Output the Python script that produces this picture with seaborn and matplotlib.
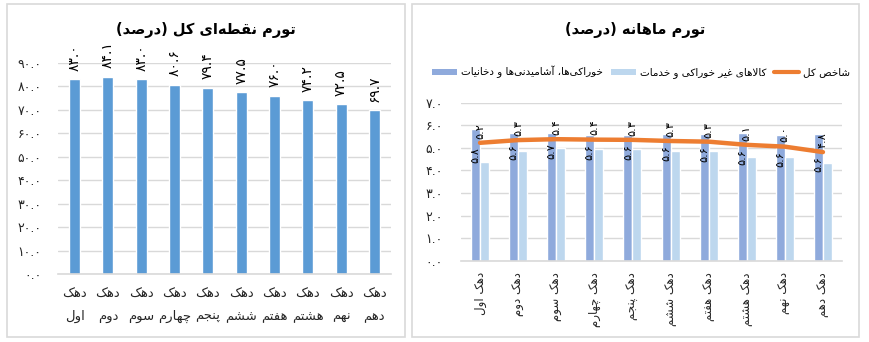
import numpy as np
import pandas as pd
import matplotlib
matplotlib.use("Agg")
import matplotlib.pyplot as plt
from matplotlib.patches import Rectangle, Patch
from matplotlib.lines import Line2D
from matplotlib.ticker import FixedLocator, FuncFormatter
import seaborn as sns

# ---------------- data ----------------
deciles = ["دهک اول", "دهک دوم", "دهک سوم", "دهک چهارم", "دهک پنجم",
           "دهک ششم", "دهک هفتم", "دهک هشتم", "دهک نهم", "دهک دهم"]
point_inflation = [83.0, 84.1, 83.0, 80.6, 79.4, 77.5, 76.0, 74.2, 72.5, 69.7]

food_monthly = [5.81, 5.64, 5.66, 5.58, 5.56, 5.62, 5.61, 5.64, 5.56, 5.62]
nonfood_monthly = [4.37, 4.86, 4.99, 4.96, 4.96, 4.86, 4.86, 4.59, 4.59, 4.31]
total_monthly = [5.22, 5.34, 5.38, 5.36, 5.35, 5.30, 5.27, 5.13, 5.05, 4.81]

title_left = "تورم نقطه‌ای کل (درصد)"
title_right = "تورم ماهانه (درصد)"
name_food = "خوراکی‌ها، آشامیدنی‌ها و دخانیات"
name_nonfood = "کالاهای غیر خوراکی و خدمات"
name_total = "شاخص کل"

left_ticks = [0, 10, 20, 30, 40, 50, 60, 70, 80, 90]
right_ticks = [0, 1, 2, 3, 4, 5, 6, 7]

# ---------------- Persian text helpers ----------------
# (isolated, final, initial, medial)
FORMS = {
    'ا': ('\uFE8D', '\uFE8E', None, None),
    'آ': ('\uFE81', '\uFE82', None, None),
    'ب': ('\uFE8F', '\uFE90', '\uFE91', '\uFE92'),
    'پ': ('\uFB56', '\uFB57', '\uFB58', '\uFB59'),
    'ت': ('\uFE95', '\uFE96', '\uFE97', '\uFE98'),
    'ج': ('\uFE9D', '\uFE9E', '\uFE9F', '\uFEA0'),
    'چ': ('\uFB7A', '\uFB7B', '\uFB7C', '\uFB7D'),
    'ح': ('\uFEA1', '\uFEA2', '\uFEA3', '\uFEA4'),
    'خ': ('\uFEA5', '\uFEA6', '\uFEA7', '\uFEA8'),
    'د': ('\uFEA9', '\uFEAA', None, None),
    'ر': ('\uFEAD', '\uFEAE', None, None),
    'ز': ('\uFEAF', '\uFEB0', None, None),
    'س': ('\uFEB1', '\uFEB2', '\uFEB3', '\uFEB4'),
    'ش': ('\uFEB5', '\uFEB6', '\uFEB7', '\uFEB8'),
    'ص': ('\uFEB9', '\uFEBA', '\uFEBB', '\uFEBC'),
    'ط': ('\uFEC1', '\uFEC2', '\uFEC3', '\uFEC4'),
    'ع': ('\uFEC9', '\uFECA', '\uFECB', '\uFECC'),
    'غ': ('\uFECD', '\uFECE', '\uFECF', '\uFED0'),
    'ف': ('\uFED1', '\uFED2', '\uFED3', '\uFED4'),
    'ق': ('\uFED5', '\uFED6', '\uFED7', '\uFED8'),
    'ک': ('\uFB8E', '\uFB8F', '\uFB90', '\uFB91'),
    'گ': ('\uFB92', '\uFB93', '\uFB94', '\uFB95'),
    'ل': ('\uFEDD', '\uFEDE', '\uFEDF', '\uFEE0'),
    'م': ('\uFEE1', '\uFEE2', '\uFEE3', '\uFEE4'),
    'ن': ('\uFEE5', '\uFEE6', '\uFEE7', '\uFEE8'),
    'ه': ('\uFEE9', '\uFEEA', '\uFEEB', '\uFEEC'),
    'و': ('\uFEED', '\uFEEE', None, None),
    'ی': ('\uFBFC', '\uFBFD', '\uFBFE', '\uFBFF'),
}
LAM_ALEF = {'ا': ('\uFEFB', '\uFEFC'), 'آ': ('\uFEF5', '\uFEF6')}
MIRROR = {'(': ')', ')': '('}


def _joins_forward(c):
    f = FORMS.get(c)
    return f is not None and f[2] is not None


def rtl(text):
    """Contextual shaping plus right-to-left visual ordering for one line."""
    chars = list(text)
    out = []
    i, n = 0, len(chars)
    while i < n:
        c = chars[i]
        f = FORMS.get(c)
        if f is None:
            if c != '\u200c':
                out.append(c)
            i += 1
            continue
        prev = chars[i - 1] if i > 0 else None
        after_join = prev is not None and _joins_forward(prev)
        if c == 'ل' and i + 1 < n and chars[i + 1] in LAM_ALEF:
            lig = LAM_ALEF[chars[i + 1]]
            out.append(lig[1] if after_join else lig[0])
            i += 2
            continue
        nxt = chars[i + 1] if i + 1 < n else None
        before_join = f[2] is not None and nxt is not None and nxt in FORMS
        if after_join and before_join:
            g = f[3]
        elif after_join:
            g = f[1]
        elif before_join:
            g = f[2]
        else:
            g = f[0]
        out.append(g)
        i += 1
    return ''.join(MIRROR.get(c, c) for c in reversed(out))


FA_DIGITS = str.maketrans("0123456789", "۰۱۲۳۴۵۶۷۸۹")


def fa_num(v):
    return f"{v:.1f}".translate(FA_DIGITS)


# ---------------- style ----------------
sns.set_theme(style="white")
plt.rcParams['font.family'] = ['DejaVu Sans']
plt.rcParams['text.color'] = 'black'

BLUE = "#5B9BD5"
DARK = "#8FAADC"
LIGHT = "#BDD7EE"
ORANGE = "#ED7D31"
GRID = "#D9D9D9"

W, H = 869, 342
fig = plt.figure(figsize=(W / 100, H / 100), dpi=100)


def px_axes(x0, y0, x1, y1):
    return fig.add_axes([x0 / W, 1 - y1 / H, (x1 - x0) / W, (y1 - y0) / H])


# panel frames
for (x0, y0, x1, y1) in [(6.5, 3.5, 404.5, 337), (411.5, 3.5, 858.5, 337)]:
    fig.add_artist(Rectangle((x0 / W, 1 - y1 / H), (x1 - x0) / W, (y1 - y0) / H,
                             transform=fig.transFigure, fill=False,
                             edgecolor=GRID, linewidth=1.2))


def style_axes(ax, ticks, ylim):
    ax.set_ylim(*ylim)
    ax.yaxis.set_major_locator(FixedLocator(ticks))
    ax.yaxis.set_major_formatter(FuncFormatter(lambda v, p: fa_num(v)))
    ax.grid(axis='y', color=GRID, linewidth=1)
    ax.set_axisbelow(True)
    for s in ['left', 'right', 'top']:
        ax.spines[s].set_visible(False)
    ax.spines['bottom'].set_color(GRID)
    ax.spines['bottom'].set_linewidth(1.2)
    ax.tick_params(axis='both', length=0)
    ax.set_xlabel("")
    ax.set_ylabel("")


# ---------------- left: point-to-point inflation ----------------
axL = px_axes(58, 62.7, 391, 274.3)
left_df = pd.DataFrame({"decile": deciles, "value": point_inflation})
sns.barplot(data=left_df, x="decile", y="value", color=BLUE, width=0.33,
            saturation=1, ax=axL)
style_axes(axL, left_ticks, (0, 90))
axL.set_xlim(-0.5, len(deciles) - 0.5)
axL.tick_params(axis='y', labelsize=9, pad=12)
axL.set_xticks(range(len(deciles)))
axL.set_xticklabels(["\n".join(rtl(part) for part in d.split(" ")) for d in deciles],
                    fontsize=9.5, linespacing=1.9)
axL.tick_params(axis='x', pad=10)
axL.bar_label(axL.containers[0], labels=[fa_num(v) for v in point_inflation],
              rotation=90, padding=6, fontsize=10)
fig.text(205.5 / W, 1 - 30 / H, rtl(title_left), ha='center', va='center',
         fontsize=10.5, fontweight='bold')

# ---------------- right: monthly inflation ----------------
axR = px_axes(461, 102.5, 842, 261)
monthly_df = pd.DataFrame({
    "decile": deciles * 2,
    "value": food_monthly + nonfood_monthly,
    "group": [name_food] * len(deciles) + [name_nonfood] * len(deciles),
})
sns.barplot(data=monthly_df, x="decile", y="value", hue="group",
            palette=[DARK, LIGHT], width=0.47, gap=0, saturation=1,
            legend=False, ax=axR)
sns.lineplot(x=np.arange(len(deciles)), y=total_monthly, color=ORANGE,
             linewidth=3.2, ax=axR)
style_axes(axR, right_ticks, (0, 7))
axR.set_xlim(-0.5, len(deciles) - 0.5)
axR.tick_params(axis='y', labelsize=9, pad=13)
axR.set_xticks(range(len(deciles)))
axR.set_xticklabels([rtl(d) for d in deciles], rotation=90, fontsize=8.5,
                    va='top', ha='center')
axR.tick_params(axis='x', pad=8)

# value labels: total above the line, food on its bar below the line
food_bars = axR.containers[0]
for i, (bar, fv, tv) in enumerate(zip(food_bars, food_monthly, total_monthly)):
    axR.annotate(fa_num(tv), (i, tv), xytext=(0, 3), textcoords='offset points',
                 rotation=90, ha='center', va='bottom', fontsize=8)
    axR.annotate(fa_num(fv), (bar.get_x() + bar.get_width() / 2, tv),
                 xytext=(0, -3), textcoords='offset points',
                 rotation=90, ha='center', va='top', fontsize=8)

handles = [Patch(facecolor=DARK, edgecolor='none'),
           Patch(facecolor=LIGHT, edgecolor='none'),
           Line2D([0], [0], color=ORANGE, linewidth=3)]
fig.legend(handles, [rtl(name_food), rtl(name_nonfood), rtl(name_total)],
           loc='center', bbox_to_anchor=(641 / W, 1 - 72 / H), ncol=3,
           frameon=False, fontsize=7.5, handlelength=2.4, handleheight=0.55,
           handletextpad=0.35, columnspacing=0.8, borderpad=0.2)
fig.text(635 / W, 1 - 30 / H, rtl(title_right), ha='center', va='center',
         fontsize=10.5, fontweight='bold')

fig.savefig("out.png", dpi=100)
